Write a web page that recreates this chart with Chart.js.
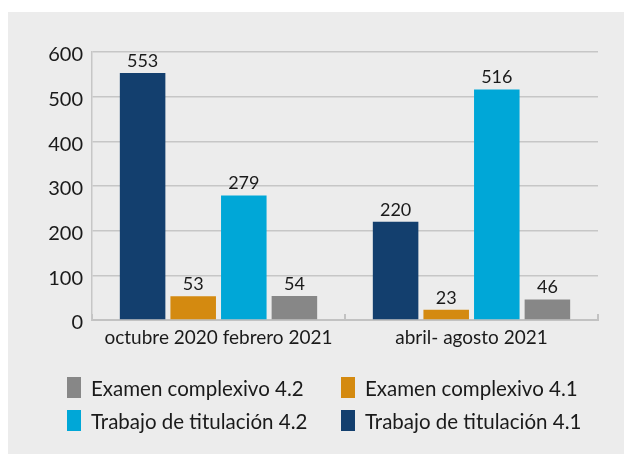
<!DOCTYPE html>
<html>
<head>
<meta charset="utf-8">
<script src="https://cdn.jsdelivr.net/npm/chart.js@4.4.1/dist/chart.umd.min.js"></script>
<style>
  html, body { margin: 0; padding: 0; background: #ffffff; }
  body { width: 624px; height: 455px; position: relative; overflow: hidden; font-family: Lato, sans-serif; }
  #panel { position: absolute; left: 8px; top: 12px; width: 616px; height: 442px; background: #ececec; }
  #c { position: absolute; left: 0; top: 0; }
  #legend { position: absolute; left: 59px; top: 365px; display: grid; grid-auto-flow: column; grid-template-rows: 21px 21px; grid-template-columns: 274px auto; row-gap: 12px; }
  .item { display: flex; align-items: center; height: 21px; color: #1a1a1a; font-size: 20.5px; white-space: nowrap; }
  .box { width: 14px; height: 21px; margin-right: 10px; flex: none; }
</style>
</head>
<body>
<div id="panel">
  <canvas id="c" width="616" height="442"></canvas>
  <div id="legend"></div>
</div>
<script>
const categories = ["octubre 2020 febrero 2021", "abril- agosto 2021"];
const seriesNames = ["Trabajo de titulación 4.1", "Examen complexivo 4.1", "Trabajo de titulación 4.2", "Examen complexivo 4.2"];
const trabajo41 = [553, 220];
const examen41 = [53, 23];
const trabajo42 = [279, 516];
const examen42 = [54, 46];
const seriesColors = ["#133f6e", "#d48a10", "#00a7d7", "#878787"];
const yTicks = [0, 100, 200, 300, 400, 500, 600];

const seriesValues = [trabajo41, examen41, trabajo42, examen42];
const datasets = seriesNames.map((name, i) => ({
  label: name,
  data: seriesValues[i],
  backgroundColor: seriesColors[i],
  borderWidth: 0
}));

const valueLabels = {
  id: 'valueLabels',
  afterDatasetsDraw(chart) {
    const ctx = chart.ctx;
    ctx.save();
    ctx.font = '18px Lato';
    ctx.fillStyle = '#1a1a1a';
    ctx.textAlign = 'center';
    ctx.textBaseline = 'bottom';
    chart.data.datasets.forEach((ds, i) => {
      const meta = chart.getDatasetMeta(i);
      meta.data.forEach((el, j) => {
        ctx.fillText(String(ds.data[j]), el.x, el.y - 3);
      });
    });
    ctx.restore();
  }
};

const chart = new Chart(document.getElementById('c'), {
  type: 'bar',
  data: { labels: categories, datasets },
  options: {
    responsive: false,
    animation: false,
    devicePixelRatio: 1,
    layout: { padding: { top: 40, right: 26, left: 0, bottom: 94 } },
    plugins: { legend: { display: false }, tooltip: { enabled: false } },
    scales: {
      x: {
        afterFit(s) { s.height = 40; },
        grid: { offset: true, drawOnChartArea: false, drawTicks: true, tickLength: -6, color: '#c2c2c2', lineWidth: 2 },
        border: { color: '#c2c2c2', width: 2 },
        ticks: { color: '#1a1a1a', font: { family: 'Lato', size: 19 }, padding: 12 }
      },
      y: {
        min: 0, max: 600,
        afterFit(s) { s.width = 84; },
        afterBuildTicks(s) { s.ticks = yTicks.map(v => ({ value: v })); },
        grid: { color: '#c6c6c6', lineWidth: 1.5, drawTicks: false },
        border: { color: '#c6c6c6', width: 1.5 },
        ticks: { color: '#1a1a1a', font: { family: 'Lato', size: 20 }, padding: 9, labelOffset: 3 }
      }
    }
  },
  plugins: [valueLabels]
});

// HTML legend: reversed dataset order, filled column by column
const legend = document.getElementById('legend');
chart.data.datasets.slice().reverse().forEach(ds => {
  const item = document.createElement('div');
  item.className = 'item';
  const box = document.createElement('span');
  box.className = 'box';
  box.style.background = ds.backgroundColor;
  item.appendChild(box);
  item.appendChild(document.createTextNode(ds.label));
  legend.appendChild(item);
});
</script>
</body>
</html>
